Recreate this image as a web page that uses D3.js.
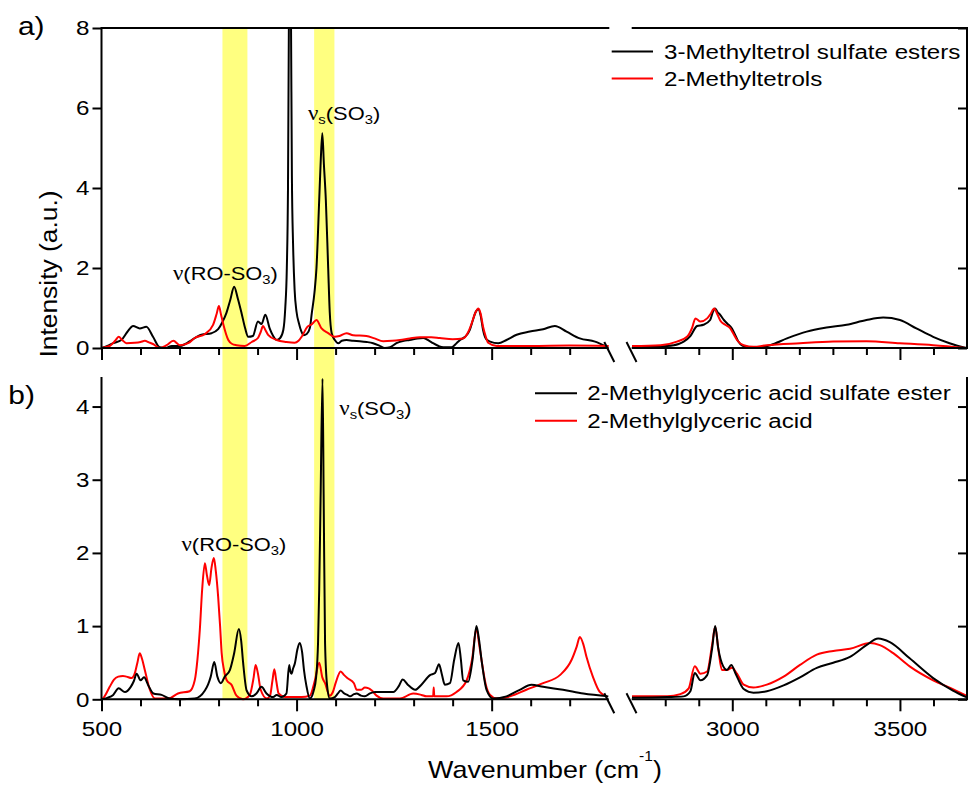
<!DOCTYPE html>
<html>
<head>
<meta charset="utf-8">
<script src="https://cdn.jsdelivr.net/npm/d3@7"></script>
<style>
  body { margin: 0; background: #fff; }
  svg { display: block; }
</style>
</head>
<body>
<svg id="chart" width="972" height="785"></svg>
<script>
// ---- axis set-up -------------------------------------------------------
const lowRange = [500, 1800];     // fingerprint region (left segment)
const highRange = [2700, 3700];   // C-H / O-H stretch region (right segment)
const majorTicks = [500, 1000, 1500, 3000, 3500];
const minorTicks = [600, 700, 800, 900, 1100, 1200, 1300, 1400, 1600, 1700,
                    2800, 2900, 3100, 3200, 3300, 3400, 3600];
const yTicksA = [0, 2, 4, 6, 8];
const yTicksB = [0, 1, 2, 3, 4];
const bandRanges = [[810, 874], [1045, 1097]];

const legendA = ["3-Methyltetrol sulfate esters", "2-Methyltetrols"];
const legendB = ["2-Methylglyceric acid sulfate ester", "2-Methylglyceric acid"];

// ---- spectra: [wavenumber (cm-1), intensity (a.u.)] ----------------------
const mtsSpectrum = [
  [500,0],[515,0.05],[530,0.12],[551,0.2],[566,0.4],[581,0.55],[598,0.49],[615,0.53],[632,0.28],
  [649,0.02],[665,0],[680,0.05],[700,0.05],[715,0.1],[731,0.2],[756,0.33],[782,0.37],[799,0.47],
  [810,0.65],[820,0.87],[830,1.2],[840,1.53],[849,1.25],[859,0.87],[868,0.5],[876,0.28],[888,0.3],
  [901,0.66],[910,0.6],[920,0.83],[931,0.49],[940,0.3],[949,0.2],[958,0.25],[966,0.45],[971,1.0],
  [975,2.0],[978,4.0],[980.5,8.5],[983,10],[985.5,8.5],[988,4.3],[991,2.6],[995,1.45],[1000,0.9],
  [1006,0.62],[1012,0.42],[1018,0.32],[1026,0.35],[1034,0.5],[1039,0.87],[1046,1.4],[1051,2.0],
  [1058,3.7],[1062,4.7],[1066,5.37],[1070,4.6],[1075,3.7],[1081,2.0],[1085,0.9],[1090,0.37],
  [1098,0.2],[1107,0.12],[1116,0.18],[1128,0.2],[1145,0.18],[1162,0.17],[1180,0.15],[1196,0.12],
  [1212,0.06],[1226,0],[1240,0.02],[1256,0.12],[1275,0.18],[1290,0.2],[1310,0.24],[1325,0.25],
  [1340,0.18],[1350,0.12],[1364,0.05],[1376,0.02],[1397,0.02],[1410,0.12],[1419,0.2],[1432,0.28],
  [1444,0.45],[1452,0.7],[1459,0.9],[1466,0.97],[1472,0.8],[1478,0.45],[1486,0.22],[1496,0.16],
  [1517,0.12],[1538,0.2],[1564,0.33],[1598,0.41],[1632,0.47],[1662,0.55],[1692,0.41],[1726,0.24],
  [1765,0.16],[1795,0.03],
  [2701,0.03],[2750,0.03],[2806,0.05],[2840,0.1],[2855,0.16],[2875,0.3],[2895,0.55],[2914,0.58],
  [2934,0.7],[2942,0.9],[2949,0.99],[2956,0.9],[2964,0.83],[2975,0.7],[2984,0.62],[2999,0.49],
  [3010,0.3],[3018,0.16],[3030,0.06],[3043,0.03],[3073,0.01],[3113,0.07],[3163,0.24],[3222,0.41],
  [3281,0.51],[3341,0.58],[3400,0.7],[3450,0.76],[3500,0.7],[3549,0.49],[3599,0.28],[3648,0.12],
  [3698,0]
];

const mtSpectrum = [
  [500,0],[521,0.05],[535,0.18],[544,0.28],[553,0.2],[564,0.12],[585,0.13],[600,0.15],[611,0.18],
  [622,0.14],[632,0.1],[649,0],[667,0.07],[684,0.18],[701,0.07],[722,0.12],[739,0.25],[765,0.35],
  [786,0.58],[795,0.85],[801,1.05],[806,0.85],[812,0.6],[825,0.2],[835,0.1],[846,0.07],[867,0.05],
  [885,0.15],[901,0.25],[908,0.4],[914,0.55],[920,0.45],[927,0.33],[949,0.2],[974,0.15],[995,0.13],
  [1005,0.18],[1013,0.28],[1027,0.52],[1040,0.6],[1051,0.7],[1064,0.49],[1081,0.37],[1098,0.28],
  [1110,0.3],[1128,0.37],[1145,0.32],[1179,0.3],[1200,0.24],[1222,0.17],[1245,0.18],[1265,0.2],
  [1290,0.24],[1316,0.27],[1345,0.27],[1367,0.25],[1400,0.22],[1427,0.24],[1440,0.4],[1449,0.62],
  [1458,0.88],[1466,0.99],[1472,0.85],[1478,0.53],[1485,0.28],[1491,0.13],[1513,0.05],[1600,0.05],
  [1700,0.06],[1800,0.05],
  [2701,0.05],[2786,0.07],[2835,0.16],[2865,0.28],[2880,0.5],[2890,0.74],[2905,0.66],[2925,0.74],
  [2935,0.85],[2946,0.99],[2955,0.85],[2964,0.69],[2979,0.58],[2994,0.49],[3005,0.33],[3014,0.2],
  [3034,0.07],[3063,0.03],[3103,0.07],[3202,0.12],[3301,0.16],[3400,0.17],[3500,0.12],[3599,0.07],
  [3698,0]
];

const mgaSulfateSpectrum = [
  [500,0],[515,0.02],[530,0.06],[544,0.15],[560,0.1],[575,0.17],[583,0.25],[590,0.35],[600,0.26],
  [609,0.3],[620,0.19],[633,0.08],[654,0.06],[675,0.01],[700,0],[739,0.01],[765,0.12],[773,0.2],
  [780,0.31],[789,0.51],[797,0.31],[806,0.22],[816,0.31],[829,0.4],[840,0.63],[852,0.96],[858,0.8],
  [863,0.5],[872,0.12],[885,0.04],[897,0.08],[910,0.17],[923,0.08],[940,0.03],[949,0.06],[961,0.03],
  [974,0.08],[981,0.47],[984,0.38],[987,0.35],[991,0.42],[996,0.5],[1002,0.68],[1008,0.77],
  [1014,0.65],[1019,0.4],[1025,0.19],[1034,0.01],[1044,0.12],[1050,0.3],[1055,0.77],[1058,1.5],
  [1061.5,2.72],[1066.5,4.38],[1069.5,2.72],[1073,0.77],[1078,0.2],[1085,0.01],[1098,0.03],
  [1106,0.08],[1113,0.12],[1122,0.08],[1130,0.06],[1137,0.04],[1147,0.07],[1154,0.08],[1165,0.05],
  [1175,0.04],[1188,0.08],[1201,0.1],[1248,0.1],[1262,0.18],[1272,0.27],[1285,0.2],[1304,0.13],
  [1320,0.2],[1342,0.33],[1355,0.36],[1365,0.48],[1372,0.35],[1380,0.2],[1393,0.22],[1404,0.54],
  [1415,0.77],[1421,0.55],[1427,0.26],[1440,0.24],[1451,0.54],[1461,1.0],[1468,0.8],[1474,0.54],
  [1487,0.13],[1504,0.01],[1538,0.04],[1572,0.13],[1602,0.2],[1632,0.17],[1683,0.13],[1735,0.08],
  [1799,0.04],
  [2701,0.02],[2806,0.03],[2855,0.04],[2875,0.11],[2888,0.36],[2905,0.26],[2925,0.33],[2940,0.7],
  [2949,1.0],[2958,0.7],[2973,0.45],[2984,0.4],[2997,0.47],[3010,0.35],[3034,0.14],[3063,0.09],
  [3103,0.11],[3153,0.19],[3202,0.3],[3252,0.43],[3301,0.5],[3351,0.58],[3400,0.74],[3435,0.83],
  [3470,0.78],[3529,0.56],[3599,0.29],[3658,0.12],[3698,0.03]
];

const mgaSpectrum = [
  [500,0],[505,0.02],[521,0.17],[532,0.27],[543,0.31],[555,0.32],[564,0.31],[577,0.29],[585,0.35],
  [592,0.5],[598,0.63],[604,0.55],[611,0.4],[624,0.13],[637,0.01],[671,0.01],[696,0.08],[726,0.11],
  [739,0.26],[746,0.55],[752,0.95],[758,1.5],[765,1.86],[770,1.7],[776,1.56],[782,1.8],[788,1.93],
  [793,1.75],[799,1.4],[804,1.0],[808,0.63],[814,0.4],[821,0.26],[833,0.2],[846,0.05],[863,0],
  [880,0.06],[890,0.3],[895,0.47],[901,0.35],[908,0.13],[924,0.01],[932,0.05],[938,0.25],[943,0.41],
  [948,0.25],[954,0.08],[971,0.03],[1013,0.03],[1034,0.05],[1047,0.26],[1058,0.5],[1066,0.3],
  [1073,0.22],[1085,0.05],[1093,0.1],[1100,0.22],[1113,0.38],[1122,0.33],[1130,0.29],[1147,0.22],
  [1154,0.13],[1165,0.13],[1175,0.16],[1185,0.15],[1193,0.12],[1205,0.05],[1222,0.01],[1265,0.01],
  [1299,0.08],[1320,0.06],[1333,0.04],[1350,0.04],[1351.5,0.16],[1353,0.04],[1384,0.04],[1410,0.1],
  [1436,0.26],[1450,0.55],[1461,0.97],[1468,0.75],[1474,0.54],[1485,0.2],[1496,0.06],[1513,0.01],
  [1547,0.04],[1589,0.13],[1632,0.22],[1675,0.33],[1705,0.54],[1718,0.72],[1726,0.85],[1735,0.75],
  [1743,0.58],[1760,0.3],[1777,0.1],[1795,0.04],
  [2701,0.04],[2806,0.04],[2845,0.07],[2870,0.15],[2888,0.45],[2905,0.35],[2925,0.38],[2940,0.75],
  [2949,0.99],[2958,0.7],[2969,0.4],[2984,0.4],[2999,0.43],[3014,0.35],[3034,0.2],[3063,0.16],
  [3103,0.2],[3153,0.31],[3202,0.47],[3252,0.61],[3301,0.66],[3351,0.69],[3411,0.77],[3440,0.74],
  [3480,0.63],[3529,0.45],[3599,0.26],[3658,0.14],[3698,0.05]
];

// ---- drawing -----------------------------------------------------------
const FONT = '"Liberation Sans", Arial, Helvetica, sans-serif';
const SERIF = '"Liberation Serif", "Times New Roman", serif';
const SX = 1.15;            // horizontal stretch of the lettering
const LEFT = 101.5, RIGHT = 967;

const svg = d3.select("#chart");
const defs = svg.append("defs");

const xLow = d3.scaleLinear().domain(lowRange).range([LEFT, 608.7]);
const xHigh = d3.scaleLinear().domain(highRange).range([631.7, RIGHT]);
const segments = [xLow, xHigh];

const yA = d3.scaleLinear().domain([0, 8]).range([348, 28]);
const yB = d3.scaleLinear().domain([0, 4.39]).range([699.3, 378]);

// text with optional sub/superscript parts, stretched horizontally
function richText(parent, x, y, parts, o) {
  const size = o.size, sx = o.sx === undefined ? SX : o.sx;
  let tr = `translate(${x},${y})`;
  if (o.rotate) tr += ` rotate(${o.rotate})`;
  tr += ` scale(${sx},1)`;
  const t = parent.append("text")
    .attr("transform", tr)
    .attr("font-family", FONT)
    .attr("font-size", size)
    .attr("fill", "#000")
    .attr("text-anchor", o.anchor || "start");
  let shift = 0;
  parts.forEach(p => {
    const target = p.sub ? size * 0.22 : p.sup ? (o.supShift || -size * 0.7) : 0;
    const ts = t.append("tspan").text(p.t).attr("dy", target - shift);
    if (p.sub) ts.attr("font-size", size * 0.68);
    if (p.sup) ts.attr("font-size", size * 0.58);
    if (p.serif) ts.attr("font-family", SERIF).attr("font-size", size * 1.05);
    shift = target;
  });
  return t;
}

// highlighted bands run through both panels
const bandLayer = svg.append("g");
bandRanges.forEach(([a, b]) => {
  bandLayer.append("rect")
    .attr("x", xLow(a)).attr("width", xLow(b) - xLow(a))
    .attr("y", yA.range()[1]).attr("height", yB.range()[0] - yA.range()[1])
    .attr("fill", "#ffff80");
});

function drawPanel(cfg) {
  const y = cfg.y;
  const [yBottom, yTop] = y.range();
  const g = svg.append("g");

  // traces
  defs.append("clipPath").attr("id", "clip-" + cfg.id)
    .append("rect").attr("x", LEFT).attr("y", yTop)
    .attr("width", RIGHT - LEFT).attr("height", yBottom - yTop + 10);
  const plot = g.append("g").attr("clip-path", `url(#clip-${cfg.id})`);
  cfg.series.forEach(s => {
    segments.forEach(xs => {
      const [d0, d1] = xs.domain();
      const pts = s.data.filter(p => p[0] >= d0 && p[0] <= d1);
      const line = d3.line().x(d => xs(d[0])).y(d => y(d[1])).curve(d3.curveMonotoneX);
      plot.append("path").datum(pts).attr("d", line)
        .attr("fill", "none").attr("stroke", s.color)
        .attr("stroke-width", 2).attr("stroke-linejoin", "round");
    });
  });

  // x axis: minor + major ticks per segment
  segments.forEach(xs => {
    const [d0, d1] = xs.domain();
    const inDom = v => v >= d0 && v <= d1;
    const minor = g.append("g").attr("transform", `translate(0,${yBottom})`)
      .call(d3.axisBottom(xs).tickValues(minorTicks.filter(inDom)).tickSize(7).tickFormat(""));
    minor.select(".domain").remove();
    const major = g.append("g").attr("transform", `translate(0,${yBottom})`)
      .call(d3.axisBottom(xs).tickValues(majorTicks.filter(inDom)).tickSize(12)
        .tickFormat(cfg.xLabels ? d3.format("d") : ""));
    major.select(".domain").remove();
    major.selectAll("text")
      .attr("font-family", FONT).attr("font-size", 21).attr("fill", "#000")
      .attr("y", 22).attr("transform", `scale(${SX},1)`);
    [minor, major].forEach(a => a.selectAll(".tick line").attr("stroke", "#000").attr("stroke-width", 2));
    // axis line for the segment
    g.append("line").attr("x1", xs.range()[0]).attr("x2", xs.range()[1])
      .attr("y1", yBottom).attr("y2", yBottom).attr("stroke", "#000").attr("stroke-width", 2);
    if (cfg.topLine) {
      g.append("line").attr("x1", xs.range()[0]).attr("x2", xs.range()[1] + (xs === xLow ? 0.6 : 0))
        .attr("y1", yTop).attr("y2", yTop).attr("stroke", "#000").attr("stroke-width", 2);
    }
  });

  // break marks on the x axis
  [xLow.range()[1] - 1.4, xHigh.range()[0] - 2.2].forEach(xc => {
    g.append("line").attr("x1", xc - 3).attr("y1", yBottom - 6)
      .attr("x2", xc + 7).attr("y2", yBottom + 14)
      .attr("stroke", "#000").attr("stroke-width", 2);
  });

  // y axes
  const left = g.append("g").attr("transform", `translate(${LEFT},0)`)
    .call(d3.axisLeft(y).tickValues(cfg.yTicks).tickSize(9).tickFormat(d3.format("d")));
  left.select(".domain").remove();
  left.selectAll(".tick line").attr("stroke", "#000").attr("stroke-width", 2);
  left.selectAll("text")
    .attr("font-family", FONT).attr("font-size", 21).attr("fill", "#000")
    .attr("x", 0).attr("transform", `translate(-12,0) scale(${SX},1)`);
  g.append("line").attr("x1", LEFT).attr("x2", LEFT).attr("y1", yTop - 1).attr("y2", yBottom + 1)
    .attr("stroke", "#000").attr("stroke-width", 2);

  const right = g.append("g").attr("transform", `translate(${RIGHT},0)`)
    .call(d3.axisLeft(y).tickValues(cfg.yTicks).tickSize(9).tickFormat(""));
  right.select(".domain").remove();
  right.selectAll(".tick line").attr("stroke", "#000").attr("stroke-width", 2);
  g.append("line").attr("x1", RIGHT).attr("x2", RIGHT).attr("y1", yTop - 1).attr("y2", yBottom + 1)
    .attr("stroke", "#000").attr("stroke-width", 2);

  // legend
  cfg.legend.forEach((name, i) => {
    const ly = cfg.legendPos.y + i * cfg.legendPos.dy;
    g.append("line").attr("x1", cfg.legendPos.x1).attr("x2", cfg.legendPos.x2)
      .attr("y1", ly).attr("y2", ly)
      .attr("stroke", cfg.legendColors[i]).attr("stroke-width", 2);
    richText(g, cfg.legendPos.tx, ly + 7, [{ t: name }], { size: 21 });
  });

  // band annotations
  cfg.notes.forEach(n => richText(g, n.x, n.y, n.parts, { size: 19 }));

  // panel letter
  richText(g, cfg.letter.x, cfg.letter.y, [{ t: cfg.letter.t }], { size: 26 });
}

const roSO3 = [{ t: "ν", serif: true }, { t: "(RO-SO" }, { t: "3", sub: true }, { t: ")" }];
const sSO3 = [{ t: "ν", serif: true }, { t: "s", sub: true }, { t: "(SO" }, { t: "3", sub: true }, { t: ")" }];

drawPanel({
  id: "a", y: yA, yTicks: yTicksA, topLine: true, xLabels: false,
  series: [
    { data: mtsSpectrum, color: "#000000" },
    { data: mtSpectrum, color: "#ff0000" }
  ],
  legend: legendA, legendColors: ["#000000", "#ff0000"],
  legendPos: { x1: 611.7, x2: 653, tx: 664, y: 51.5, dy: 27 },
  notes: [
    { x: 173, y: 280, parts: roSO3 },
    { x: 308, y: 119.5, parts: sSO3 }
  ],
  letter: { t: "a)", x: 18, y: 34.5 }
});

drawPanel({
  id: "b", y: yB, yTicks: yTicksB, topLine: false, xLabels: true,
  series: [
    { data: mgaSpectrum, color: "#ff0000" },
    { data: mgaSulfateSpectrum, color: "#000000" }
  ],
  legend: legendB, legendColors: ["#000000", "#ff0000"],
  legendPos: { x1: 535, x2: 577, tx: 587.3, y: 393.3, dy: 27.5 },
  notes: [
    { x: 181.5, y: 551, parts: roSO3 },
    { x: 339.3, y: 415, parts: sSO3 }
  ],
  letter: { t: "b)", x: 8.3, y: 404 }
});

// axis titles
richText(svg, 545, 778, [{ t: "Wavenumber (cm" }, { t: "-1", sup: true }, { t: ")" }],
  { size: 24, anchor: "middle", sx: 1.12, supShift: -17 });
richText(svg, 57, 274, [{ t: "Intensity (a.u.)" }],
  { size: 24, anchor: "middle", rotate: -90, sx: 1.1 });
</script>
</body>
</html>
